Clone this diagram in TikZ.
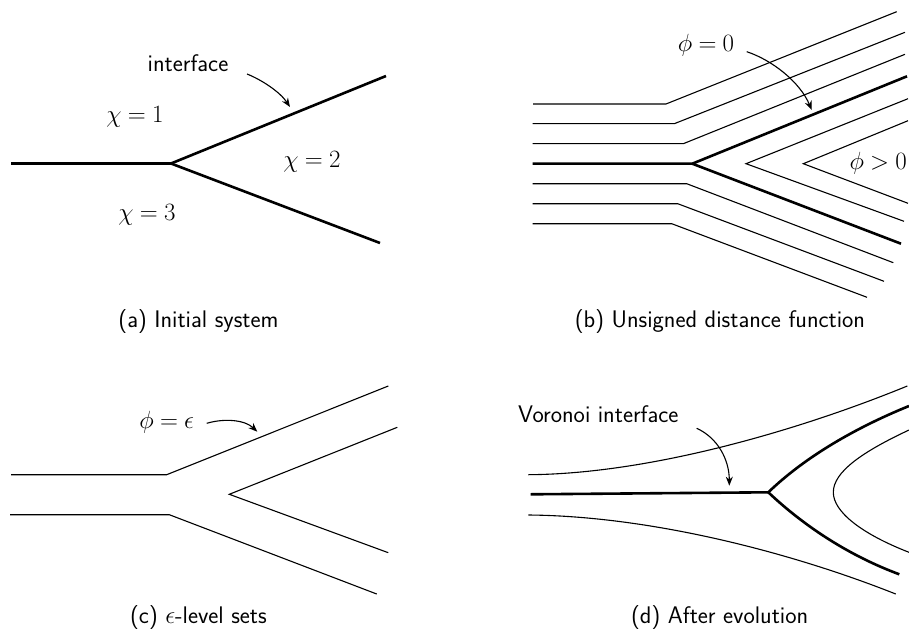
\documentclass[tikz,border=0pt]{standalone}
\usetikzlibrary{arrows.meta}
\thickmuskip=4.5mu plus 2mu
\begin{document}
\begin{tikzpicture}[x=1pt,y=-1pt,
  thickline/.style={line width=2.6pt},
  thinline/.style={line width=1.1pt},
  lbl/.style={font=\sffamily\fontsize{24}{29}\selectfont, inner sep=0pt},
  mlbl/.style={font=\fontsize{24}{29}\selectfont, inner sep=0pt},
  captext/.style={font=\sffamily\fontsize{24}{29}\selectfont, inner sep=0pt, anchor=base},
  pointer/.style={line width=1.1pt, -{Stealth[length=9pt,width=7pt]}}
]
\useasboundingbox (0,0) rectangle (909,631);

% ---------- (a) ----------
\draw[thickline] (11,163.5) -- (171,163.5) -- (386,76);
\draw[thickline] (171,163.5) -- (380,243);
\node[lbl] (ia) at (188,63) {interface};
\node[mlbl] (c1) at (135,117) {$\chi = 1$};
\node[mlbl] (c2) at (312,162) {$\chi = 2$};
\node[mlbl] (c3) at (147,215) {$\chi = 3$};
\coordinate (ia1) at (247,74);
\coordinate (ia2) at (290,107);
\draw[pointer] (ia1) .. controls (262,80) and (280,92) .. (ia2);
\node[captext] (capa) at (198.5,327) {(a) Initial system};

% ---------- (b) ----------
\draw[thickline] (532.7,163.7) -- (692.3,163.7) -- (907,76.3);
\draw[thickline] (692.3,163.7) -- (901,243.7);
\draw[thinline] (532.7,143.7) -- (683.3,143.7) -- (905,54.3);
\draw[thinline] (532.7,123.7) -- (674.3,123.7) -- (905,32.3);
\draw[thinline] (533,104) -- (666,104) -- (896.7,11.7);
\draw[thinline] (532.7,183.7) -- (686.7,183.7) -- (893.3,262.7);
\draw[thinline] (532.7,203.7) -- (677.7,203.7) -- (884,281.3);
\draw[thinline] (532.7,223.7) -- (671.7,223.7) -- (867,297.3);
\draw[thinline] (908,98.7) -- (746,163.7) -- (904,221.3);
\draw[thinline] (908,120.7) -- (803.3,163.7) -- (908,203.3);
\node[mlbl] (p0) at (706,45) {$\phi = 0$};
\node[mlbl, anchor=east] (pg) at (907,163) {$\phi > 0$};
\coordinate (pb1) at (746.7,51.7);
\coordinate (pb2) at (811.7,110);
\draw[pointer] (pb1) .. controls (772,60) and (800,82) .. (pb2);
\node[captext] (capb) at (720,327) {(b) Unsigned distance function};

% ---------- (c) ----------
\draw[thinline] (11,474.7) -- (166.7,474.7) -- (388.3,386);
\draw[thinline] (10,514.7) -- (169.3,514.7) -- (376.7,594);
\draw[thinline] (397.3,427.3) -- (229.3,494.3) -- (388.3,552.7);
\node[mlbl] (pe) at (166.7,422.3) {$\phi = \epsilon$};
\coordinate (pc1) at (206.7,423.3);
\coordinate (pc2) at (257.3,431.7);
\draw[pointer] (pc1) .. controls (225,418) and (245,420) .. (pc2);
\node[captext] (capc) at (198.5,623) {(c) $\epsilon$-level sets};

% ---------- (d) ----------
\draw[thickline] (530.7,494.3) -- (768.3,492.3)
   .. controls (805,457) and (855,428) .. (909,406);
\draw[thickline] (768.3,492.3) .. controls (805,527) and (850,556) .. (899.3,574.3);
\draw[thinline] (528.3,474.7) .. controls (650,474) and (800,430) .. (907.3,386);
\draw[thinline] (528.3,515) .. controls (650,516) and (790,552) .. (895.7,594);
\draw[thinline] (909,430) .. controls (862,452) and (833.3,472) .. (833.3,492.3)
   .. controls (833.3,512) and (862,534) .. (909,552.3);
\node[lbl] (vi) at (598.3,414) {Voronoi interface};
\coordinate (vd1) at (696.7,428.3);
\coordinate (vd2) at (729.3,485.7);
\draw[pointer] (vd1) .. controls (718,438) and (729.3,460) .. (vd2);
\node[captext] (capd) at (719.7,623) {(d) After evolution};
\end{tikzpicture}
\end{document}
